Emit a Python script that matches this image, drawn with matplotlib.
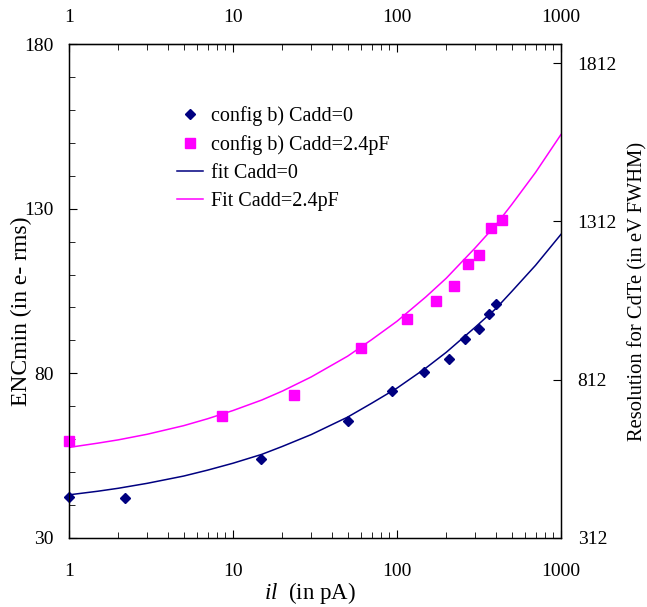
import matplotlib
matplotlib.use('Agg')
import matplotlib.pyplot as plt
from matplotlib.ticker import FixedLocator, LogLocator, FuncFormatter, NullFormatter

plt.rcParams['font.family'] = ['Liberation Serif', 'DejaVu Serif']
plt.rcParams['mathtext.fontset'] = 'custom'
plt.rcParams['mathtext.rm'] = 'Liberation Serif'
plt.rcParams['mathtext.it'] = 'Liberation Serif:italic'

# measured ENC vs leakage current, config b)
il_c0 = [1.0, 2.2, 14.9, 50.4, 93.7, 145.8, 208.9, 258.7, 314.6, 365.4, 402.9]
enc_c0 = [42.3, 42.2, 53.9, 65.4, 74.7, 80.4, 84.5, 90.3, 93.4, 97.9, 101.0]

il_c24 = [1.0, 8.6, 23.5, 60.7, 114.5, 174.1, 221.8, 269.8, 317.7, 374.3, 434.3]
enc_c24 = [59.4, 67.1, 73.3, 87.8, 96.6, 101.9, 106.5, 113.1, 115.8, 124.0, 126.5]

# fitted curves
il_fit = [1, 1.5, 2, 3, 5, 7, 10, 15, 20, 30, 50, 70, 100, 150, 200, 300, 400, 500, 700, 1000]
fit_c0 = [43.1, 44.2, 45.1, 46.6, 48.8, 50.6, 52.7, 55.4, 57.8, 61.4, 66.7, 70.9,
          75.5, 81.6, 86.4, 94.0, 99.6, 104.8, 112.8, 122.2]
fit_c24 = [57.5, 58.8, 59.8, 61.5, 64.1, 66.2, 68.7, 71.9, 74.6, 78.9, 85.2, 90.2,
           95.8, 103.2, 108.9, 118.1, 125.0, 131.2, 141.0, 152.5]

enc_ticks = [30, 80, 130, 180]
ev_ticks = [312, 812, 1312, 1812]
ev_per_e = 10.4  # CdTe FWHM conversion

fig, ax = plt.subplots(figsize=(6.47, 6.07), dpi=100)
fig.subplots_adjust(left=0.1066, right=0.867, top=0.9275, bottom=0.1137)

ax.plot(il_fit, fit_c0, color='#000080', lw=1.1, label='fit Cadd=0', zorder=2)
ax.plot(il_fit, fit_c24, color='#ff00ff', lw=1.1, label='Fit Cadd=2.4pF', zorder=2)
ax.plot(il_c0, enc_c0, 'D', color='#000080', ms=5.5, ls='none',
        label='config b) Cadd=0', zorder=3, clip_on=False)
ax.plot(il_c24, enc_c24, 's', color='#ff00ff', ms=7, ls='none',
        label='config b) Cadd=2.4pF', zorder=3, clip_on=False)

ax.set_xscale('log')
ax.set_xlim(1, 1000)
ax.set_ylim(enc_ticks[0], enc_ticks[-1])
ax.xaxis.set_major_locator(FixedLocator([1, 10, 100, 1000]))
ax.xaxis.set_minor_locator(LogLocator(base=10, subs=range(2, 10)))
ax.xaxis.set_major_formatter(FuncFormatter(lambda v, p: '%g' % v))
ax.xaxis.set_minor_formatter(NullFormatter())
ax.yaxis.set_major_locator(FixedLocator(enc_ticks))
ax.yaxis.set_minor_locator(FixedLocator(range(30, 181, 10)))

ax.tick_params(axis='x', which='both', direction='in', top=False,
               labelsize=14, pad=18)
ax.tick_params(axis='x', which='major', length=6)
ax.tick_params(axis='x', which='minor', length=4)
ax.tick_params(axis='y', which='both', direction='in', labelsize=14, pad=11)
ax.tick_params(axis='y', which='major', length=6)
ax.tick_params(axis='y', which='minor', length=4)

# same log scale repeated along the top
top = ax.secondary_xaxis('top')
top.xaxis.set_major_locator(FixedLocator([1, 10, 100, 1000]))
top.xaxis.set_minor_locator(LogLocator(base=10, subs=range(2, 10)))
top.xaxis.set_major_formatter(FuncFormatter(lambda v, p: '%g' % v))
top.xaxis.set_minor_formatter(NullFormatter())
top.tick_params(axis='x', which='both', direction='in', labelsize=14, pad=13)
top.tick_params(axis='x', which='major', length=6)
top.tick_params(axis='x', which='minor', length=4)

ax.set_xlabel(r'$il$  (in pA)', fontsize=16.5)
ax.xaxis.set_label_coords(0.49, -0.085)
ax.set_ylabel('ENCmin (in e- rms)', fontsize=17)
ax.yaxis.set_label_coords(-0.075, 0.46)

ax2 = ax.twinx()
ax2.set_ylim(enc_ticks[0] * ev_per_e, enc_ticks[-1] * ev_per_e)
ax2.yaxis.set_major_locator(FixedLocator(ev_ticks))
ax2.tick_params(axis='y', direction='in', length=6, labelsize=14, pad=12)
ax2.set_ylabel('Resolution for CdTe (in eV FWHM)', fontsize=14.8, labelpad=8)

h, l = ax.get_legend_handles_labels()
order = [2, 3, 0, 1]
ax.legend([h[i] for i in order], [l[i] for i in order], loc='upper left',
          bbox_to_anchor=(0.2195, 0.8745), frameon=False, fontsize=14.5,
          borderaxespad=0, borderpad=0,
          handlelength=1.3, handletextpad=0.4, labelspacing=0.45, numpoints=1)

for sp in ax.spines.values():
    sp.set_linewidth(1.0)

fig.savefig('out.png', dpi=100)
